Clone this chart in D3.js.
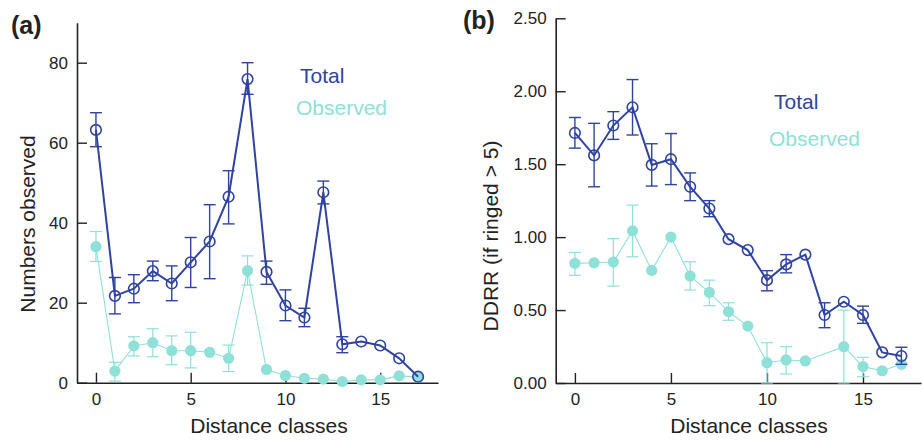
<!DOCTYPE html>
<html><head><meta charset="utf-8">
<script src="https://cdn.jsdelivr.net/npm/d3@7"></script>
<style>
html,body{margin:0;padding:0;background:#fff;}
svg{display:block;}
text{font-family:"Liberation Sans",Arial,Helvetica,sans-serif;}
</style></head>
<body>
<svg id="chart" width="922" height="440"></svg>
<script>
// ---------- data ----------
const distanceClasses = [0,1,2,3,4,5,6,7,8,9,10,11,12,13,14,15,16,17];

// Panel (a): Numbers observed
const aTotal     = [63.2,21.7,23.5,27.9,24.8,30.1,35.3,46.5,75.9,27.7,19.3,16.3,47.6,9.6,10.3,9.3,6.1,1.5];
const aTotalHi   = [67.5,26.3,27.0,30.4,29.2,36.3,44.5,53.0,80.0,30.4,23.2,18.6,50.4,11.5,null,null,null,null];
const aTotalLo   = [59.0,17.2,20.0,25.5,20.5,23.8,26.0,39.7,72.1,24.6,15.5,14.0,44.7,7.5,null,null,null,null];
const aObs       = [34.0,2.9,9.2,10.0,8.0,8.0,7.6,6.1,28.0,3.3,1.8,1.1,0.9,0.3,0.7,0.7,1.7,1.4];
const aObsHi     = [37.8,5.1,11.5,13.5,11.7,12.6,null,9.4,31.7,null,null,null,null,null,null,null,null,null];
const aObsLo     = [30.3,0.4,6.7,6.5,4.5,3.7,null,2.8,24.4,null,null,null,null,null,null,null,null,null];

// Panel (b): DDRR (if ringed > 5)
const bTotal     = [1.714,1.56,1.765,1.89,1.495,1.534,1.345,1.196,0.986,0.911,0.705,0.813,0.88,0.466,0.557,0.466,0.21,0.185];
const bTotalHi   = [1.82,1.78,1.86,2.08,1.64,1.71,1.44,1.25,null,null,0.77,0.88,null,0.55,null,0.527,null,0.245];
const bTotalLo   = [1.61,1.345,1.67,1.70,1.35,1.36,1.25,1.14,null,null,0.632,0.755,null,0.379,null,0.409,null,0.128];
const bObs       = [0.82,0.824,0.829,1.043,0.772,1.0,0.733,0.621,0.489,0.39,0.139,0.158,0.151,null,0.249,0.112,0.084,0.128];
const bObsHi     = [0.895,null,0.99,1.22,null,null,0.831,0.705,0.55,null,0.276,0.249,null,null,0.5,0.176,null,null];
const bObsLo     = [0.738,null,0.664,0.865,null,null,0.637,0.53,0.43,null,0.0,0.062,null,null,0.0,0.043,null,null];

const xTicks  = [0,5,10,15];
const aYTicks = [0,20,40,60,80];
const bYTicks = [0,0.5,1.0,1.5,2.0,2.5];

const seriesNames = ["Total","Observed"];
const colTotal = "#2f43a0";
const colObs   = "#8fe0d7";

// ---------- drawing ----------
const svg = d3.select("#chart");

function panel(cfg){
  const g = svg.append("g");
  const x = d3.scaleLinear().domain(cfg.xDomain).range(cfg.xRange);
  const y = d3.scaleLinear().domain(cfg.yDomain).range(cfg.yRange);

  const xAxis = d3.axisBottom(x).tickValues(xTicks).tickSize(-10).tickSizeOuter(0).tickPadding(10)
    .tickFormat(d3.format("d"));
  const yAxis = d3.axisLeft(y).tickValues(cfg.yTicks).tickSize(-10).tickSizeOuter(0).tickPadding(9)
    .tickFormat(cfg.yFormat);

  const gx = g.append("g").attr("transform",`translate(0,${cfg.yRange[0]})`).call(xAxis);
  const gy = g.append("g").attr("transform",`translate(${cfg.xRange[0]},0)`).call(yAxis);
  [gx,gy].forEach(a=>{
    a.select(".domain").attr("stroke","#222").attr("stroke-width",1.6);
    a.selectAll(".tick line").attr("stroke","#222").attr("stroke-width",1.4);
    a.selectAll(".tick text").attr("fill","#222").attr("font-size",17)
      .attr("font-family",'"Liberation Sans",Arial,sans-serif');
  });

  // series
  function drawSeries(vals, hi, lo, color, lw, ebw, filled){
    const pts = distanceClasses.map((d,i)=>({x:d,v:vals[i],hi:hi[i],lo:lo[i]})).filter(p=>p.v!==null);
    const line = d3.line().x(p=>x(p.x)).y(p=>y(p.v));
    g.append("path").datum(pts).attr("d",line).attr("fill","none")
      .attr("stroke",color).attr("stroke-width",lw);
    const eb = pts.filter(p=>p.hi!==null && p.hi!==undefined);
    const cap = 6;
    const eg = g.append("g").attr("stroke",color).attr("stroke-width",ebw).attr("fill","none");
    eb.forEach(p=>{
      eg.append("line").attr("x1",x(p.x)).attr("x2",x(p.x)).attr("y1",y(p.hi)).attr("y2",y(p.lo));
      eg.append("line").attr("x1",x(p.x)-cap).attr("x2",x(p.x)+cap).attr("y1",y(p.hi)).attr("y2",y(p.hi));
      eg.append("line").attr("x1",x(p.x)-cap).attr("x2",x(p.x)+cap).attr("y1",y(p.lo)).attr("y2",y(p.lo));
    });
    g.append("g").selectAll("circle").data(pts).join("circle")
      .attr("cx",p=>x(p.x)).attr("cy",p=>y(p.v))
      .attr("r", filled ? 5.6 : 5.3)
      .attr("fill", filled ? color : "#fff")
      .attr("fill-opacity", filled ? 1 : 0)
      .attr("stroke", color).attr("stroke-width", filled ? 0 : 1.6);
  }
  drawSeries(cfg.obs, cfg.obsHi, cfg.obsLo, colObs, 1.1, 1.2, true);
  drawSeries(cfg.tot, cfg.totHi, cfg.totLo, colTotal, 2, 1.4, false);

  // titles
  g.append("text").attr("x",cfg.xTitleX).attr("y",433).attr("text-anchor","middle")
    .attr("font-size",21).attr("fill","#222").text("Distance classes");
  g.append("text").attr("transform",`translate(${cfg.yTitleX},${cfg.yTitleY}) rotate(-90)`)
    .attr("text-anchor","middle").attr("font-size",21).attr("fill","#222").text(cfg.yTitle);
  g.append("text").attr("x",cfg.labX).attr("y",cfg.labY).attr("font-size",25)
    .attr("font-weight","bold").attr("fill","#222").text(cfg.label);
  // legend
  g.append("text").attr("x",cfg.legTX).attr("y",cfg.legTY).attr("font-size",21)
    .attr("fill",colTotal).text(seriesNames[0]);
  g.append("text").attr("x",cfg.legOX).attr("y",cfg.legOY).attr("font-size",21)
    .attr("fill",colObs).text(seriesNames[1]);
}

panel({
  xDomain:[-1,18.05], xRange:[77,438], yDomain:[0,90], yRange:[382.7,22.7],
  yTicks:aYTicks, yFormat:d3.format("d"),
  tot:aTotal, totHi:aTotalHi, totLo:aTotalLo, obs:aObs, obsHi:aObsHi, obsLo:aObsLo,
  xTitleX:269, yTitleX:35, yTitleY:224, yTitle:"Numbers observed",
  label:"(a)", labX:11, labY:34,
  legTX:300, legTY:83, legOX:296, legOY:115
});
panel({
  xDomain:[-1,18.02], xRange:[555.7,921], yDomain:[0,2.5], yRange:[383,18.3],
  yTicks:bYTicks, yFormat:d3.format(".2f"),
  tot:bTotal, totHi:bTotalHi, totLo:bTotalLo, obs:bObs, obsHi:bObsHi, obsLo:bObsLo,
  xTitleX:749, yTitleX:498, yTitleY:236, yTitle:"DDRR (if ringed > 5)",
  label:"(b)", labX:463, labY:29,
  legTX:774, legTY:109, legOX:769, legOY:146
});
</script>
</body></html>
